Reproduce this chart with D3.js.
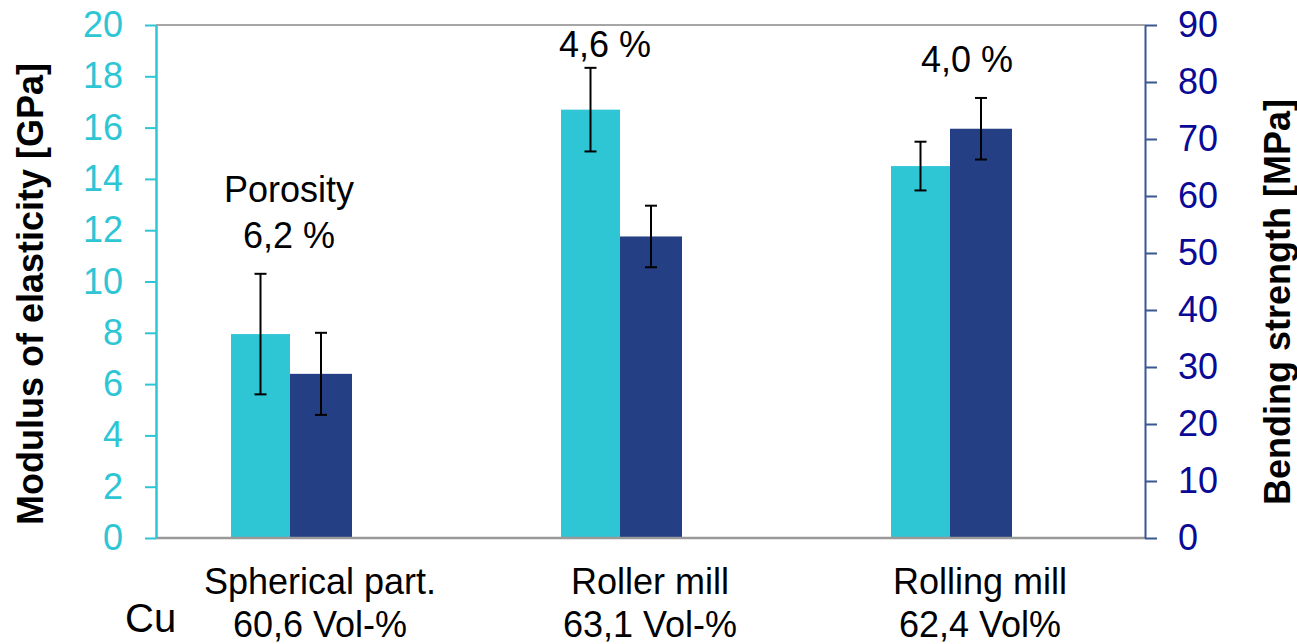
<!DOCTYPE html>
<html>
<head>
<meta charset="utf-8">
<script src="https://cdn.jsdelivr.net/npm/d3@7"></script>
<style>
  html, body { margin: 0; padding: 0; background: #fff; }
  svg { display: block; font-family: "Liberation Sans", Arial, sans-serif; }
</style>
</head>
<body>
<svg id="chart" width="1297" height="644"></svg>
<script>
// Copper composites: stiffness and bending strength per powder type
const categories = ["Spherical part.", "Roller mill", "Rolling mill"];
const categoryLine2 = ["60,6 Vol-%", "63,1 Vol-%", "62,4 Vol%"];
const modulus = [7.95, 16.7, 14.5];          // GPa (left axis)
const modulusErr = [2.35, 1.63, 0.95];
const bending = [28.8, 52.9, 71.8];          // MPa (right axis)
const bendingErr = [7.2, 5.4, 5.4];
const porosityLabels = [["Porosity", "6,2 %"], ["4,6 %"], ["4,0 %"]];
const leftTicks = [0, 2, 4, 6, 8, 10, 12, 14, 16, 18, 20];
const rightTicks = [0, 10, 20, 30, 40, 50, 60, 70, 80, 90];

const cyan = "#2EC5D5";
const navy = "#253F85";

const svg = d3.select("#chart");
const plotL = 156, plotR = 1145, plotT = 25, plotB = 538;

const x = d3.scaleBand().domain(categories).range([plotL - 1, plotR]).padding(0);
const yL = d3.scaleLinear().domain([0, 20]).range([plotB, plotT]);
const yR = d3.scaleLinear().domain([0, 90]).range([plotB, plotT]);
const center = c => x(c) + x.bandwidth() / 2;

// top frame line
svg.append("line").attr("x1", plotL).attr("x2", plotR).attr("y1", plotT).attr("y2", plotT)
  .attr("stroke", "#A6A6A6").attr("stroke-width", 2);

// bars
const g = svg.append("g");
categories.forEach((c, i) => {
  const cx = center(c);
  g.append("rect").attr("x", cx - 89).attr("width", 59)
    .attr("y", yL(modulus[i])).attr("height", yL(0) - yL(modulus[i]))
    .attr("fill", cyan);
  g.append("rect").attr("x", cx - 30).attr("width", 62)
    .attr("y", yR(bending[i])).attr("height", yR(0) - yR(bending[i]))
    .attr("fill", navy);
});

// error bars
function errorBar(xc, yTop, yBot) {
  const e = svg.append("g").attr("stroke", "#000").attr("stroke-width", 2);
  e.append("line").attr("x1", xc).attr("x2", xc).attr("y1", yTop).attr("y2", yBot);
  e.append("line").attr("x1", xc - 6).attr("x2", xc + 6).attr("y1", yTop).attr("y2", yTop);
  e.append("line").attr("x1", xc - 6).attr("x2", xc + 6).attr("y1", yBot).attr("y2", yBot);
}
categories.forEach((c, i) => {
  const cx = center(c);
  errorBar(cx - 59.5, yL(modulus[i] + modulusErr[i]), yL(modulus[i] - modulusErr[i]));
  errorBar(cx + 1, yR(bending[i] + bendingErr[i]), yR(bending[i] - bendingErr[i]));
});

// baseline
svg.append("line").attr("x1", plotL).attr("x2", plotR).attr("y1", plotB).attr("y2", plotB)
  .attr("stroke", "#999").attr("stroke-width", 2.5);

// left axis
const axL = svg.append("g").attr("transform", `translate(${plotL},0)`)
  .call(d3.axisLeft(yL).tickValues(leftTicks).tickSize(11).tickPadding(22).tickSizeOuter(0));
axL.select(".domain").attr("stroke", cyan).attr("stroke-width", 2.5);
axL.selectAll(".tick line").attr("stroke", cyan).attr("stroke-width", 2);
axL.selectAll(".tick text").attr("fill", cyan).attr("font-size", 36)
  .attr("font-family", "Liberation Sans, Arial, sans-serif");

// right axis
const axR = svg.append("g").attr("transform", `translate(${plotR},0)`)
  .call(d3.axisRight(yR).tickValues(rightTicks).tickSize(12).tickPadding(21).tickSizeOuter(0));
axR.select(".domain").attr("stroke", "#3A5794").attr("stroke-width", 2);
axR.selectAll(".tick line").attr("stroke", "#3A5794").attr("stroke-width", 2);
axR.selectAll(".tick text").attr("fill", "#0A0A96").attr("font-size", 36)
  .attr("font-family", "Liberation Sans, Arial, sans-serif");

// axis titles
svg.append("text").attr("transform", "translate(43,294) rotate(-90)")
  .attr("text-anchor", "middle").attr("font-size", 36).attr("font-weight", "bold")
  .attr("fill", "#000").text("Modulus of elasticity [GPa]");
svg.append("text").attr("transform", "translate(1290,302) rotate(-90)")
  .attr("text-anchor", "middle").attr("font-size", 36).attr("font-weight", "bold")
  .attr("fill", "#000").text("Bending strength [MPa]");

// category labels
categories.forEach((c, i) => {
  const t = svg.append("text").attr("text-anchor", "middle").attr("font-size", 36).attr("fill", "#000");
  t.append("tspan").attr("x", center(c)).attr("y", 594).text(c);
  t.append("tspan").attr("x", center(c)).attr("y", 637).text(categoryLine2[i]);
});
svg.append("text").attr("x", 125).attr("y", 632).attr("font-size", 40).attr("fill", "#000").text("Cu");

// porosity annotations
const annoPos = [[289, 202], [605, 57], [967, 72]];
porosityLabels.forEach((lines, i) => {
  const t = svg.append("text").attr("text-anchor", "middle").attr("font-size", 36).attr("fill", "#000");
  lines.forEach((s, j) => {
    t.append("tspan").attr("x", annoPos[i][0]).attr("y", annoPos[i][1] + j * 46).text(s);
  });
});
</script>
</body>
</html>
